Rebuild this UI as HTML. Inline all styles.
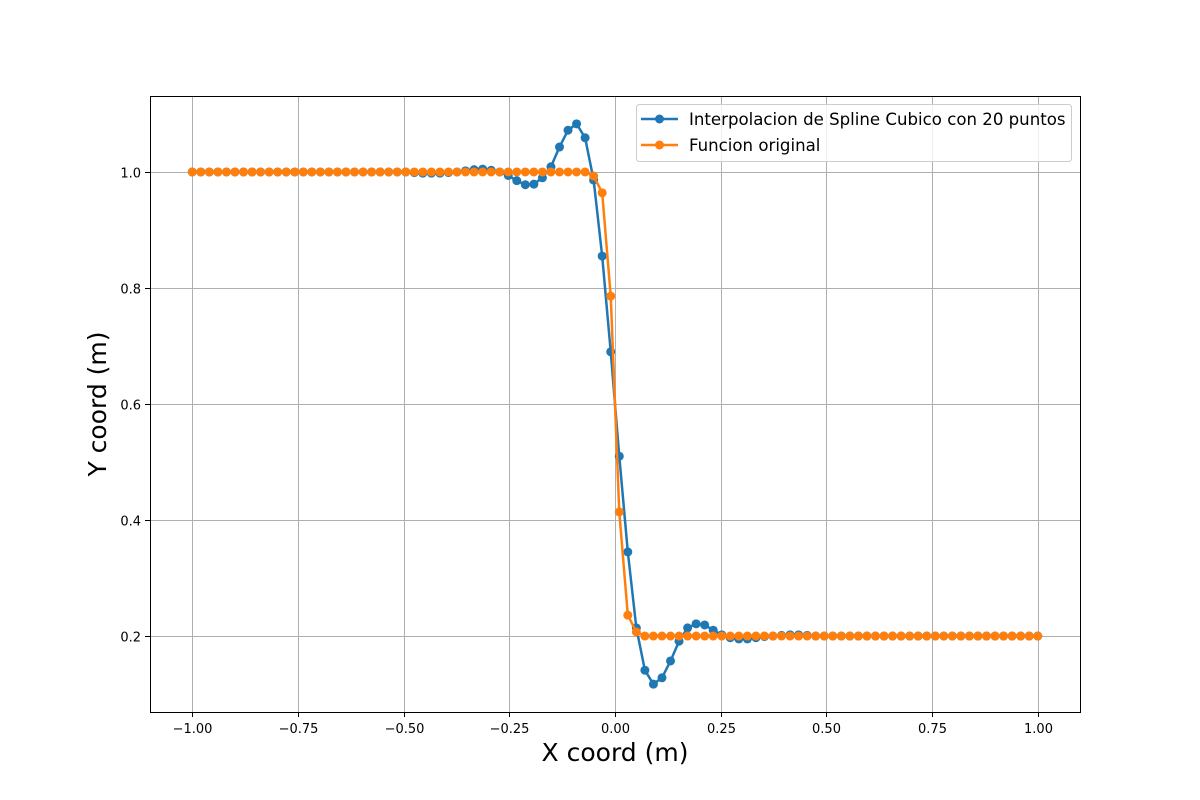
<!DOCTYPE html>
<html><head><meta charset="utf-8"><style>
html,body{margin:0;padding:0;background:#fff;}
svg{display:block;font-family:"DejaVu Sans","Liberation Sans",sans-serif;}
</style></head><body>
<svg id="chart" width="1200" height="800" viewBox="0 0 1200 800">
<rect x="0" y="0" width="1200" height="800" fill="#fff"/>
<g id="grid"></g>
<g id="series"></g>
<rect x="150.5" y="96.5" width="930" height="616" fill="none" stroke="#000" stroke-width="1"/>
<g id="ticks"></g>
<text x="615" y="761" font-size="25" text-anchor="middle" fill="#000">X coord (m)</text>
<text x="0" y="0" font-size="25" text-anchor="middle" fill="#000" transform="translate(106,404) rotate(-90)">Y coord (m)</text>
<g>
<rect x="636.5" y="104.5" width="435" height="57" rx="3" fill="#fff" fill-opacity="0.8" stroke="#ccc" stroke-width="1"/>
<g>
<line x1="641" y1="119" x2="678" y2="119" stroke="#1f77b4" stroke-width="2.5"/>
<circle cx="659.5" cy="119" r="4.5" fill="#1f77b4"/>
<text x="689" y="125" font-size="16.6" fill="#000">Interpolacion de Spline Cubico con 20 puntos</text>
</g>
<g>
<line x1="641" y1="145" x2="678" y2="145" stroke="#ff7f0e" stroke-width="2.5"/>
<circle cx="659.5" cy="145" r="4.5" fill="#ff7f0e"/>
<text x="689" y="151" font-size="16.6" fill="#000">Funcion original</text>
</g>
</g>
</svg>
<script>
const xTicks = [-1.0, -0.75, -0.5, -0.25, 0.0, 0.25, 0.5, 0.75, 1.0];
const xTickLabels = ["\u22121.00","\u22120.75","\u22120.50","\u22120.25","0.00","0.25","0.50","0.75","1.00"];
const yTicks = [0.2, 0.4, 0.6, 0.8, 1.0];
const yTickLabels = ["0.2","0.4","0.6","0.8","1.0"];
const xDomain = [-1, 1];
const nPoints = 100;
const splineValues = [
1,1,1,1,1,1,1,1,1,1,1,1,1,1,1,1,1,1,1,1,1,1,1,1,1,1,
0.999,0.998,0.998,0.998,0.999,1.0,1.002,1.004,1.005,1.003,1.0,0.994,0.985,0.978,0.979,0.990,
1.009,1.043,1.072,1.083,1.059,0.986,0.855,0.69,0.51,0.345,0.214,0.141,0.117,0.128,0.157,0.191,
0.214,0.221,0.219,0.210,0.202,0.197,0.195,0.195,0.197,0.199,0.2,0.201,0.202,0.202,0.201,
0.2,0.2,0.2,0.2,0.2,0.2,0.2,0.2,0.2,0.2,0.2,0.2,0.2,0.2,0.2,0.2,0.2,0.2,0.2,0.2,0.2,0.2,0.2,0.2,0.2,0.2,0.2];
const originalValues = [
1,1,1,1,1,1,1,1,1,1,1,1,1,1,1,1,1,1,1,1,1,1,1,1,1,1,1,1,1,1,1,1,1,1,1,1,1,1,1,1,1,1,1,1,1,1,1,
0.993,0.964,0.786,0.414,0.236,0.207,
0.2,0.2,0.2,0.2,0.2,0.2,0.2,0.2,0.2,0.2,0.2,0.2,0.2,0.2,0.2,0.2,0.2,0.2,0.2,0.2,0.2,0.2,0.2,0.2,
0.2,0.2,0.2,0.2,0.2,0.2,0.2,0.2,0.2,0.2,0.2,0.2,0.2,0.2,0.2,0.2,0.2,0.2,0.2,0.2,0.2,0.2,0.2];

const NS = "http://www.w3.org/2000/svg";
const X0 = 150, X1 = 1080, Y0 = 96, Y1 = 712;
const xMin = -1.1, xMax = 1.1, yMin = 0.069, yMax = 1.131;
function sx(v){ return X0 + (v - xMin) / (xMax - xMin) * (X1 - X0); }
function sy(v){ return Y1 - (v - yMin) / (yMax - yMin) * (Y1 - Y0); }
function xAt(i){ return xDomain[0] + (xDomain[1] - xDomain[0]) * i / (nPoints - 1); }
function mk(tag, attrs, parent){ const e = document.createElementNS(NS, tag); for (const k in attrs) e.setAttribute(k, attrs[k]); parent.appendChild(e); return e; }

const grid = document.getElementById('grid');
const ticks = document.getElementById('ticks');
xTicks.forEach((t, i) => {
  const x = Math.round(sx(t)) + 0.5;
  const g = mk('line', {x1:x, y1:Y0, x2:x, y2:Y1, stroke:'#b0b0b0', 'stroke-width':1}, grid);
  
  
  const tk = mk('line', {x1:x, y1:Y1, x2:x, y2:Y1+5, stroke:'#000', 'stroke-width':1}, ticks);
  
  
  const lb = mk('text', {x:x, y:Y1+21, 'font-size':13, 'text-anchor':'middle', fill:'#000'}, ticks);
  lb.textContent = xTickLabels[i];
  
  
});
yTicks.forEach((t, i) => {
  const y = Math.round(sy(t)) + 0.5;
  const g = mk('line', {x1:X0, y1:y, x2:X1, y2:y, stroke:'#b0b0b0', 'stroke-width':1}, grid);
  
  
  const tk = mk('line', {x1:X0-5, y1:y, x2:X0, y2:y, stroke:'#000', 'stroke-width':1}, ticks);
  
  
  const lb = mk('text', {x:X0-9, y:y+5, 'font-size':13, 'text-anchor':'end', fill:'#000'}, ticks);
  lb.textContent = yTickLabels[i];
  
  
});

const series = document.getElementById('series');
function drawSeries(vals, color, name){
  const g = mk('g', {}, series);
  
  
  const pts = vals.map((v, i) => sx(xAt(i)).toFixed(2) + ',' + sy(v).toFixed(2)).join(' ');
  const pl = mk('polyline', {points:pts, fill:'none', stroke:color, 'stroke-width':2.5, 'stroke-linejoin':'round'}, g);
  
  
  vals.forEach((v, i) => {
    const c = mk('circle', {cx:sx(xAt(i)), cy:sy(v), r:4.5, fill:color}, g);
    
    
  });
}
drawSeries(splineValues, '#1f77b4', 'spline-series');
drawSeries(originalValues, '#ff7f0e', 'original-series');
</script>
</body></html>
